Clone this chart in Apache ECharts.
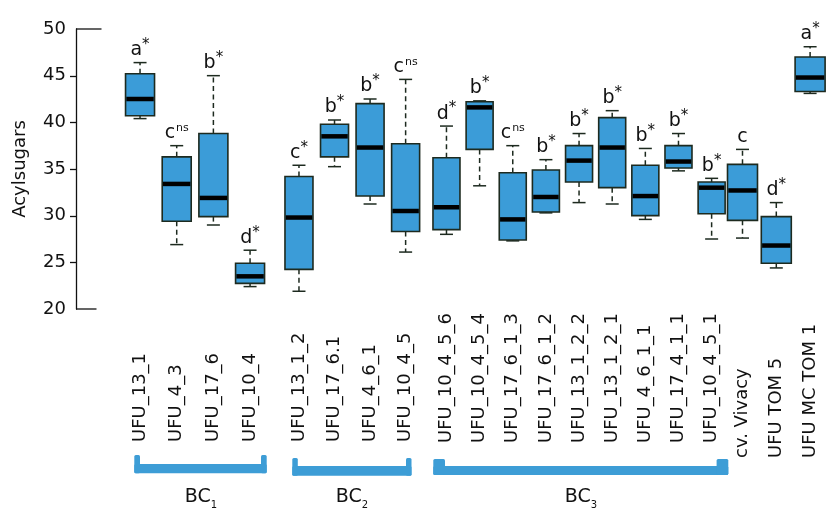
<!DOCTYPE html>
<html>
<head>
<meta charset="utf-8">
<script src="https://cdn.jsdelivr.net/npm/echarts@6/dist/echarts.min.js"></script>
<style>
  html, body { margin: 0; padding: 0; background: #fff; }
  #chart { width: 827px; height: 509px; }
</style>
</head>
<body>
<div id="chart"></div>
<script>
// ---- Data -------------------------------------------------------------
const groupSizes = [4, 4, 9, 3];

const categories = [
  'UFU_13_1', 'UFU_4_3', 'UFU_17_6', 'UFU_10_4',
  'UFU_13_1_2', 'UFU_17_6.1', 'UFU_4_6_1', 'UFU_10_4_5',
  'UFU_10_4_5_6', 'UFU_10_4_5_4', 'UFU_17_6_1_3', 'UFU_17_6_1_2', 'UFU_13_1_2_2',
  'UFU_13_1_2_1', 'UFU_4_6_1_1', 'UFU_17_4_1_1', 'UFU_10_4_5_1',
  'cv. Vivacy', 'UFU TOM 5', 'UFU MC TOM 1'
];

const whiskerHigh   = [46.4, 37.5, 45.0, 26.3, 35.4, 40.25, 42.5, 44.6, 39.6, 42.3, 37.5, 36.0, 38.8, 41.25, 37.2, 38.8, 34.0, 37.1, 31.4, 48.1];
const upperQuartile = [45.2, 36.3, 38.8, 24.9, 34.2, 39.8, 42.0, 37.7, 36.2, 42.2, 34.6, 34.9, 37.5, 40.5, 35.4, 37.5, 33.6, 35.5, 29.9, 47.0];
const medians       = [42.5, 33.4, 31.9, 23.5, 29.8, 38.5, 37.3, 30.5, 30.9, 41.6, 29.6, 32.0, 35.9, 37.3, 32.1, 35.8, 33.0, 32.7, 26.8, 44.8];
const lowerQuartile = [40.7, 29.4, 29.9, 22.75, 24.25, 36.3, 32.1, 28.3, 28.5, 37.1, 27.4, 30.4, 33.6, 33.0, 30.0, 35.1, 30.2, 29.5, 24.9, 43.3];
const whiskerLow    = [40.4, 26.9, 29.0, 22.4, 21.9, 35.25, 31.25, 26.1, 28.0, 33.2, 27.3, 30.3, 31.4, 31.25, 29.6, 34.8, 27.5, 27.6, 24.4, 43.1];

const groupLetters = ['a', 'c', 'b', 'd', 'c', 'b', 'b', 'c', 'd', 'b', 'c', 'b', 'b', 'b', 'b', 'b', 'b', 'c', 'd', 'a'];
const significance = ['*', 'ns', '*', '*', '*', '*', '*', 'ns', '*', '*', 'ns', '*', '*', '*', '*', '*', '*', '', '*', '*'];

const bracketNames = ['BC', 'BC', 'BC'];
const bracketSubscripts = ['1', '2', '3'];

const yMin = 20, yMax = 50, yStep = 5;
const yTickValues = [25, 30, 35, 40, 45];

// ---- Layout -----------------------------------------------------------
const FONT = '"DejaVu Sans", sans-serif';
const INK = '#111';
const BOX_FILL = '#3b9cd8';
const BOX_EDGE = '#1d2a1f';
const BRACKET_BLUE = '#3d9dd6';

const plotTop = 29, plotBottom = 200;
const gridBoxes = [
  { left: 121.7, width: 146.7, labelMargin: 133, boxWidth: 29 },
  { left: 281.2, width: 142.2, labelMargin: 133, boxWidth: 28 },
  { left: 429.9, width: 298.3, labelMargin: 134, boxWidth: 27 },
  { left: 725.6, width: 110.6, labelMargin: 149, boxWidth: 30 }
];
const yAxisX = 76;

const brackets = [
  { x0: 134.3, x1: 266.7, postTop: 455, barTop: 464, barBottom: 473.3, post: 5.7, textX: 201 },
  { x0: 292.3, x1: 411.5, postTop: 458, barTop: 466, barBottom: 475.7, post: 5.5, textX: 352 },
  { x0: 433.3, x1: 728.3, postTop: 459, barTop: 466, barBottom: 475,   post: 11.7, textX: 581 }
];

// ---- Build per-group slices ------------------------------------------
const groups = [];
let start = 0;
groupSizes.forEach(function (n) {
  const idx = [];
  for (let i = start; i < start + n; i++) idx.push(i);
  groups.push(idx);
  start += n;
});

function makeRenderer(globalIdx, boxWidth) {
  return function (params, api) {
    const g = globalIdx[params.dataIndex];
    const cat = api.value(0);
    const pHi = api.coord([cat, api.value(1)]);
    const pQ3 = api.coord([cat, api.value(2)]);
    const pMed = api.coord([cat, api.value(3)]);
    const pQ1 = api.coord([cat, api.value(4)]);
    const pLo = api.coord([cat, api.value(5)]);
    const cx = pHi[0];
    const half = boxWidth / 2;
    const capHalf = 6.5;
    const lineStyle = { stroke: BOX_EDGE, lineWidth: 1.5, fill: null };
    const dashed = { stroke: BOX_EDGE, lineWidth: 1.5, lineDash: [5, 3.5], fill: null };

    const mark = significance[g];
    const richText = '{l|' + groupLetters[g] + '}' +
      (mark === 'ns' ? '{n|ns}' : mark === '*' ? '{s|*}' : '');

    return {
      type: 'group',
      children: [
        { type: 'line', shape: { x1: cx, y1: pQ3[1], x2: cx, y2: pHi[1] }, style: dashed },
        { type: 'line', shape: { x1: cx, y1: pQ1[1], x2: cx, y2: pLo[1] }, style: dashed },
        { type: 'line', shape: { x1: cx - capHalf, y1: pHi[1], x2: cx + capHalf, y2: pHi[1] }, style: lineStyle },
        { type: 'line', shape: { x1: cx - capHalf, y1: pLo[1], x2: cx + capHalf, y2: pLo[1] }, style: lineStyle },
        {
          type: 'rect',
          shape: { x: cx - half, y: pQ3[1], width: boxWidth, height: pQ1[1] - pQ3[1] },
          style: { fill: BOX_FILL, stroke: BOX_EDGE, lineWidth: 1.6 }
        },
        {
          type: 'line',
          shape: { x1: cx - half + 0.8, y1: pMed[1], x2: cx + half - 0.8, y2: pMed[1] },
          style: { stroke: '#000', lineWidth: 4.5 }
        },
        {
          type: 'text',
          x: cx,
          y: pHi[1] - 3,
          style: {
            text: richText,
            align: 'center',
            verticalAlign: 'bottom',
            fill: INK,
            rich: {
              l: { fontSize: 19, fontFamily: FONT, lineHeight: 22, verticalAlign: 'bottom', fill: INK },
              s: { fontSize: 15, fontFamily: FONT, lineHeight: 15, verticalAlign: 'top', fill: INK },
              n: { fontSize: 11, fontFamily: FONT, lineHeight: 13, verticalAlign: 'top', fill: INK, padding: [2, 0, 0, 1] }
            }
          }
        }
      ]
    };
  };
}

const grids = [], xAxes = [], yAxes = [], series = [];
groups.forEach(function (idxList, gi) {
  const box = gridBoxes[gi];
  grids.push({ left: box.left, width: box.width, top: plotTop, bottom: plotBottom, containLabel: false });
  xAxes.push({
    type: 'category',
    gridIndex: gi,
    data: idxList.map(function (i) { return categories[i]; }),
    axisLine: { show: false },
    axisTick: { show: false },
    splitLine: { show: false },
    axisLabel: {
      interval: 0,
      rotate: 90,
      align: 'left',
      margin: box.labelMargin,
      fontSize: 18,
      fontFamily: FONT,
      color: INK
    }
  });
  const first = gi === 0;
  yAxes.push({
    type: 'value',
    gridIndex: gi,
    min: yMin,
    max: yMax,
    interval: yStep,
    show: first,
    offset: first ? box.left - yAxisX : 0,
    name: first ? 'Acylsugars' : '',
    nameLocation: 'middle',
    nameGap: 47,
    nameTextStyle: { fontSize: 18, fontFamily: FONT, color: INK },
    axisLine: { show: first, lineStyle: { color: INK, width: 1.3 } },
    axisTick: { show: false },
    axisLabel: { show: first, fontSize: 18, fontFamily: FONT, color: INK, margin: 10 },
    splitLine: { show: false }
  });
  series.push({
    type: 'custom',
    xAxisIndex: gi,
    yAxisIndex: gi,
    renderItem: makeRenderer(idxList, box.boxWidth),
    encode: { x: 0, y: [1, 2, 3, 4, 5] },
    data: idxList.map(function (i, k) {
      return [k, whiskerHigh[i], upperQuartile[i], medians[i], lowerQuartile[i], whiskerLow[i]];
    }),
    z: 3
  });
});

const chart = echarts.init(document.getElementById('chart'), null, { renderer: 'canvas' });
chart.setOption({
  animation: false,
  backgroundColor: '#fff',
  grid: grids,
  xAxis: xAxes,
  yAxis: yAxes,
  series: series
});

// Axis end caps, outward ticks and group brackets
const axisInk = { stroke: INK, lineWidth: 1.3 };
const yTop = chart.convertToPixel({ yAxisIndex: 0 }, yMax);
const yBottom = chart.convertToPixel({ yAxisIndex: 0 }, yMin);
const decorations = [
  { type: 'line', shape: { x1: yAxisX, y1: yTop, x2: yAxisX + 25.5, y2: yTop }, style: axisInk },
  { type: 'line', shape: { x1: yAxisX, y1: yBottom, x2: yAxisX + 20.5, y2: yBottom }, style: axisInk }
];
yTickValues.forEach(function (v) {
  const ty = Math.round(chart.convertToPixel({ yAxisIndex: 0 }, v)) + 0.5;
  decorations.push({ type: 'line', shape: { x1: yAxisX - 6, y1: ty, x2: yAxisX, y2: ty }, style: axisInk });
});
brackets.forEach(function (b, i) {
  decorations.push(
    { type: 'rect', shape: { x: b.x0, y: b.barTop, width: b.x1 - b.x0, height: b.barBottom - b.barTop, r: 1.5 }, style: { fill: BRACKET_BLUE } },
    { type: 'rect', shape: { x: b.x0, y: b.postTop, width: b.post, height: b.barBottom - b.postTop, r: 1.5 }, style: { fill: BRACKET_BLUE } },
    { type: 'rect', shape: { x: b.x1 - b.post, y: b.postTop, width: b.post, height: b.barBottom - b.postTop, r: 1.5 }, style: { fill: BRACKET_BLUE } },
    {
      type: 'text',
      x: b.textX,
      y: 507,
      style: {
        text: '{b|' + bracketNames[i] + '}{u|' + bracketSubscripts[i] + '}',
        align: 'center',
        verticalAlign: 'bottom',
        rich: {
          b: { fontSize: 19, fontFamily: FONT, fill: INK, lineHeight: 20, verticalAlign: 'bottom' },
          u: { fontSize: 10, fontFamily: FONT, fill: INK, lineHeight: 10, verticalAlign: 'bottom', padding: [0, 0, -3, 0] }
        }
      }
    }
  );
});
chart.setOption({ graphic: decorations });
</script>
</body>
</html>
